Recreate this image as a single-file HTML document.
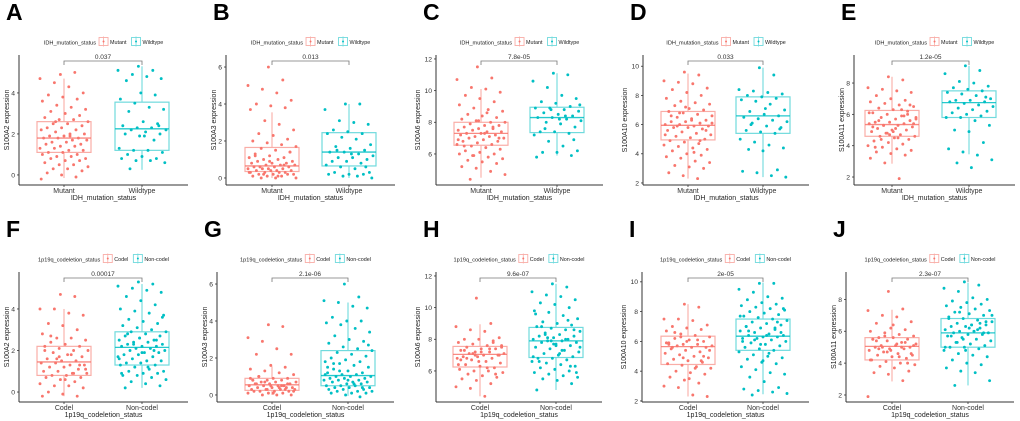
<!DOCTYPE html>
<html><head><meta charset="utf-8">
<style>
html,body{margin:0;padding:0;background:#fff;}
svg{display:block;font-family:"Liberation Sans",Arial,sans-serif;}
</style></head>
<body>
<svg id="fig" width="1020" height="421" viewBox="0 0 1020 421"></svg>
<script>
// ---------- data ----------
const panelLetters = ["A","B","C","D","E","F","G","H","I","J"];
const genes = ["S100A2","S100A3","S100A6","S100A10","S100A11","S100A2","S100A3","S100A6","S100A10","S100A11"];
const pValues = ["0.037","0.013","7.8e-05","0.033","1.2e-05","0.00017","2.1e-06","9.6e-07","2e-05","2.3e-07"];
const catsTop = ["Mutant","Wildtype"];
const catsBottom = ["Codel","Non-codel"];
const groupTop = "IDH_mutation_status";
const groupBottom = "1p19q_codeletion_status";
const yTicks = [[0,2,4],[0,2,4,6],[6,8,10,12],[2,4,6,8,10],[2,4,6,8],[0,2,4],[0,2,4,6],[6,8,10,12],[2,4,6,8,10],[2,4,6,8]];
const yDomains = [[-0.49,5.85],[-0.38,6.65],[4.04,12.25],[1.86,10.77],[1.49,9.79],[-0.48,5.78],[-0.38,6.65],[4.04,12.25],[1.93,10.66],[1.56,9.72]];
// box stats: [median, q1, q3, whiskerLow, whiskerHigh]
const boxG1 = [[1.8,1.1,2.6,-0.15,4.7],[0.65,0.35,1.65,0,3.55],[7.3,6.55,8.0,4.5,10.1],[5.95,4.95,6.9,2.3,9.5],[5.35,4.6,6.25,2.85,8.4],
  [1.45,0.8,2.2,-0.2,4.0],[0.55,0.25,0.9,0,1.55],[7.05,6.25,7.55,4.4,8.95],[5.65,4.45,6.35,2.3,8.5],[5.05,4.2,5.6,2.85,7.35]];
const boxG2 = [[2.25,1.2,3.55,0.25,5.3],[1.4,0.65,2.45,0,4.0],[8.3,7.35,8.95,5.9,11.1],[6.6,5.4,7.9,2.4,9.9],[6.75,5.8,7.5,3.45,9.1],
  [2.15,1.3,2.9,0.2,5.2],[1.05,0.5,2.4,-0.05,5.0],[7.9,6.85,8.75,4.8,11.5],[6.35,5.4,7.5,2.45,9.95],[5.9,5.0,6.8,2.6,9.05]];
const ptsA1=[4.9,5.0,4.7,4.5,4.3,4.0,3.9,3.8,3.7,3.6,3.4,3.3,3.2,3.1,3.0,2.9,2.8,2.7,2.7,2.6,2.5,2.5,2.4,2.3,2.3,2.2,2.2,2.1,2.0,2.0,1.9,1.9,1.8,1.8,1.8,1.7,1.7,1.6,1.6,1.5,1.5,1.4,1.4,1.3,1.3,1.2,1.2,1.1,1.1,1.0,1.0,0.9,0.9,0.8,0.8,0.7,0.7,0.6,0.5,0.5,0.4,0.3,0.3,0.2,0.1,0.0,-0.1,-0.2,2.6,1.9];
const ptsA2=[5.3,5.1,5.1,4.9,4.8,4.7,4.6,4.0,3.9,3.7,3.5,3.3,3.2,3.1,2.6,2.5,2.4,2.3,2.3,2.2,2.2,2.1,2.0,2.0,1.9,1.7,1.3,1.2,1.2,1.1,1.0,0.9,0.8,0.8,0.7,0.7,0.6,0.3,1.9,2.4];
const ptsB1=[6.0,5.3,5.0,4.8,4.6,4.2,4.0,3.9,3.8,3.7,3.1,2.9,2.6,2.4,2.3,2.1,2.0,1.9,1.8,1.7,1.6,1.5,1.4,1.3,1.2,1.1,1.1,1.0,1.0,0.9,0.9,0.8,0.8,0.8,0.7,0.7,0.7,0.6,0.6,0.6,0.6,0.5,0.5,0.5,0.5,0.4,0.4,0.4,0.4,0.3,0.3,0.3,0.3,0.2,0.2,0.2,0.2,0.1,0.1,0.1,0.0,0.0,0.0,1.4,1.2,0.9,0.7,0.3,0.2,0.1];
const ptsB2=[4.0,4.0,3.7,3.1,3.0,2.9,2.6,2.5,2.4,2.4,2.2,2.1,1.8,1.7,1.6,1.5,1.4,1.4,1.3,1.2,1.1,1.1,1.0,0.9,0.9,0.8,0.7,0.6,0.5,0.3,0.3,0.2,0.2,0.2,0.1,0.1,0.0,1.5,1.3,0.6];
const ptsC1=[11.5,10.8,10.7,10.2,10.1,9.9,9.7,9.5,9.3,9.1,8.9,8.8,8.7,8.5,8.4,8.3,8.2,8.1,8.0,8.0,7.9,7.8,7.8,7.7,7.6,7.6,7.5,7.5,7.4,7.4,7.3,7.3,7.2,7.2,7.1,7.1,7.0,7.0,6.9,6.8,6.8,6.7,6.6,6.6,6.5,6.4,6.3,6.2,6.1,6.0,6.0,5.9,5.8,5.7,5.6,5.5,5.4,5.2,5.1,4.9,4.7,4.4,7.3,7.0,6.5,8.1,7.7,6.9,5.9,8.6];
const ptsC2=[11.1,11.0,10.6,10.2,9.7,9.5,9.3,9.2,9.0,8.9,8.9,8.8,8.7,8.6,8.5,8.4,8.3,8.3,8.2,8.1,8.0,7.9,7.7,7.4,7.4,7.3,7.2,6.8,6.5,6.2,6.1,6.1,5.9,5.8,8.8,8.4,9.1,7.6,8.2,6.9];
const ptsD1=[9.6,9.4,9.0,8.9,8.8,8.5,8.4,8.2,8.0,7.8,7.6,7.5,7.4,7.3,7.1,7.0,6.9,6.8,6.7,6.6,6.5,6.4,6.3,6.2,6.2,6.1,6.0,6.0,5.9,5.9,5.8,5.8,5.7,5.6,5.5,5.4,5.3,5.2,5.1,5.0,4.9,4.8,4.7,4.6,4.5,4.4,4.3,4.2,4.0,3.9,3.8,3.7,3.5,3.4,3.2,3.1,3.0,2.7,2.5,2.3,6.1,5.9,6.3,5.6,6.6,7.2,4.9,5.3,6.8,4.1];
const ptsD2=[9.9,9.4,8.4,8.3,8.2,8.1,8.0,7.9,7.8,7.7,7.6,7.4,7.0,6.9,6.7,6.6,6.5,6.4,6.3,6.2,6.1,5.9,5.8,5.6,5.5,5.4,5.0,4.8,4.6,4.4,4.3,4.2,2.9,2.8,2.7,2.5,2.4,6.0,7.1,5.7];
const ptsE1=[8.4,8.2,7.7,7.6,7.5,7.4,7.2,7.0,6.9,6.8,6.7,6.6,6.5,6.4,6.3,6.2,6.1,6.0,5.9,5.8,5.8,5.7,5.6,5.5,5.5,5.4,5.4,5.3,5.3,5.2,5.1,5.0,5.0,4.9,4.8,4.7,4.6,4.6,4.5,4.4,4.3,4.2,4.1,4.0,3.9,3.8,3.7,3.6,3.5,3.4,3.2,2.9,1.9,5.4,5.6,4.9,6.0,5.2,4.8,6.3,5.7,4.4,5.1,6.6,3.9,4.7,5.9,6.1,5.3,4.5];
const ptsE2=[9.1,8.8,8.6,8.1,8.0,7.8,7.7,7.6,7.5,7.4,7.3,7.2,7.0,6.9,6.9,6.8,6.8,6.7,6.6,6.5,6.4,6.3,6.2,6.1,6.0,5.9,5.8,5.8,5.6,5.3,5.0,4.9,4.2,3.8,3.6,3.4,3.1,2.9,2.6,7.1];
const ptsF1=[4.7,4.6,4.0,4.0,3.8,3.7,3.3,3.2,3.0,2.8,2.6,2.6,2.5,2.4,2.3,2.2,2.2,2.1,2.0,2.0,1.9,1.8,1.7,1.6,1.5,1.5,1.4,1.4,1.3,1.3,1.2,1.2,1.1,1.0,1.0,0.9,0.9,0.8,0.8,0.7,0.7,0.6,0.5,0.4,0.3,0.3,0.2,0.0,-0.1,-0.2,-0.2,1.6,1.8,1.1,2.7,0.6,1.3,2.0,1.7,0.9];
const ptsF2=[5.3,5.2,5.1,5.0,4.9,4.8,4.6,4.4,4.2,4.0,3.9,3.8,3.7,3.5,3.4,3.3,3.2,3.1,3.0,2.9,2.9,2.8,2.7,2.7,2.6,2.5,2.5,2.4,2.4,2.3,2.3,2.2,2.2,2.2,2.1,2.1,2.0,2.0,1.9,1.9,1.8,1.8,1.7,1.7,1.6,1.5,1.5,1.4,1.4,1.3,1.3,1.2,1.1,1.0,1.0,0.9,0.9,0.8,0.8,0.7,0.6,0.5,0.4,0.3,0.2,2.6,2.0,1.6,2.3,1.2,3.6,2.8,1.9,2.5,0.9];
const ptsG1=[3.8,3.7,3.1,2.9,2.5,2.2,2.2,1.6,1.5,1.4,1.3,1.2,1.1,1.0,0.9,0.9,0.8,0.8,0.8,0.7,0.7,0.7,0.6,0.6,0.6,0.5,0.5,0.5,0.5,0.4,0.4,0.4,0.4,0.3,0.3,0.3,0.3,0.2,0.2,0.2,0.2,0.1,0.1,0.1,0.0,0.0,0.0,0.6,0.5,0.3,0.9,0.7,0.4,0.2,1.0,0.1,0.6,0.8,0.3,0.5];
const ptsG2=[6.0,5.3,5.1,5.0,4.8,4.7,4.2,4.0,4.0,3.9,3.8,3.6,3.4,3.2,3.0,2.9,2.8,2.6,2.5,2.4,2.3,2.2,2.1,2.0,1.9,1.8,1.8,1.7,1.6,1.5,1.4,1.3,1.2,1.2,1.1,1.1,1.0,1.0,1.0,0.9,0.9,0.9,0.8,0.8,0.8,0.7,0.7,0.7,0.6,0.6,0.5,0.5,0.5,0.4,0.4,0.4,0.3,0.3,0.3,0.2,0.2,0.2,0.1,0.1,0.1,0.0,-0.1,1.1,1.3,0.6,2.7,1.7,0.8,0.4,1.5];
const ptsH1=[10.6,9.0,8.8,8.6,8.5,8.1,8.0,8.0,7.9,7.8,7.7,7.6,7.6,7.5,7.4,7.4,7.3,7.2,7.2,7.1,7.1,7.0,7.0,6.9,6.9,6.8,6.8,6.7,6.6,6.5,6.4,6.3,6.2,6.1,6.0,6.0,5.9,5.8,5.7,5.6,5.5,5.4,5.2,5.0,4.9,4.4,7.0,7.3,6.6,7.8,6.4,7.1,6.2,7.5,6.8,7.2,5.8,6.7,7.0,7.4];
const ptsH2=[11.5,11.3,11.0,10.8,10.7,10.5,10.3,10.2,10.0,9.8,9.7,9.5,9.3,9.1,9.0,8.9,8.8,8.7,8.6,8.5,8.4,8.3,8.2,8.2,8.1,8.0,8.0,7.9,7.9,7.8,7.8,7.7,7.6,7.5,7.4,7.3,7.2,7.1,7.0,6.9,6.8,6.8,6.7,6.6,6.5,6.4,6.3,6.2,6.1,6.0,5.9,5.8,5.7,5.6,5.5,5.4,5.2,4.8,7.9,8.0,7.5,8.3,7.1,8.6,6.6,7.7,9.2,6.9,8.1,7.3,5.9,8.8,7.6,6.3,9.6];
const ptsI1=[8.5,8.3,7.5,7.5,7.4,7.1,7.0,6.9,6.8,6.7,6.5,6.4,6.3,6.2,6.1,6.0,5.9,5.8,5.8,5.7,5.7,5.6,5.6,5.5,5.4,5.3,5.2,5.1,5.0,4.9,4.8,4.7,4.6,4.5,4.4,4.3,4.2,4.0,3.9,3.8,3.6,3.4,3.2,3.0,2.9,2.4,2.3,5.6,6.0,4.7,5.9,6.3,4.2,5.4,6.6,3.5,5.0,5.8,4.9,6.1];
const ptsI2=[9.9,9.9,9.5,9.3,9.0,8.9,8.8,8.6,8.5,8.4,8.3,8.2,8.1,8.0,7.9,7.8,7.7,7.6,7.5,7.4,7.3,7.2,7.1,7.0,6.9,6.8,6.7,6.6,6.5,6.4,6.4,6.3,6.3,6.2,6.2,6.1,6.0,5.9,5.8,5.7,5.6,5.5,5.4,5.3,5.1,5.0,4.9,4.8,4.6,4.5,4.3,4.1,3.9,3.8,3.6,3.3,2.9,2.8,2.7,2.6,2.5,2.4,6.4,6.6,7.0,5.8,6.9,7.7,6.1,5.2,8.2,6.7,4.7,7.3,6.0];
const ptsJ1=[8.5,7.4,7.3,7.0,6.9,6.6,6.5,6.2,6.1,6.0,5.9,5.8,5.7,5.6,5.6,5.5,5.5,5.4,5.3,5.2,5.1,5.1,5.0,5.0,4.9,4.9,4.8,4.7,4.6,4.5,4.5,4.4,4.3,4.2,4.1,4.0,3.9,3.8,3.7,3.5,3.4,3.3,2.9,1.9,5.0,5.2,4.6,5.4,4.8,5.3,4.2,5.7,4.4,5.1,4.9,6.4,4.0,5.5,4.7,5.0];
const ptsJ2=[9.1,8.9,8.7,8.5,8.1,8.0,7.9,7.8,7.7,7.6,7.5,7.4,7.3,7.2,7.1,7.0,6.9,6.8,6.7,6.6,6.5,6.4,6.4,6.3,6.3,6.2,6.1,6.0,6.0,5.9,5.9,5.8,5.8,5.7,5.6,5.5,5.4,5.3,5.2,5.1,5.0,5.0,4.9,4.8,4.6,4.5,4.4,4.2,4.0,3.9,3.7,3.5,3.4,2.9,2.6,6.2,5.9,6.8,5.5,6.1,7.0,5.3,6.4,6.6,5.7,4.8,6.5,5.0,7.2,6.0];
const points1=[ptsA1,ptsB1,ptsC1,ptsD1,ptsE1,ptsF1,ptsG1,ptsH1,ptsI1,ptsJ1];
const points2=[ptsA2,ptsB2,ptsC2,ptsD2,ptsE2,ptsF2,ptsG2,ptsH2,ptsI2,ptsJ2];

// ---------- layout (pixels) ----------
const axisXs=[19,226,436,643,854,19,217,436,642,846];
const g1Xs=[64,272,481,688,892,64,272,480,688,892];
const g2Xs=[142,349,557,763,969,142,348,556,763,968];
const RED="#F8766D", TEAL="#00BFC4", REDL="#F9ADA7", TEALL="#70DADD";
const svg=document.getElementById('fig');
const NS="http://www.w3.org/2000/svg";
function mk(tag,attrs,parent){const e=document.createElementNS(NS,tag);for(const k in attrs)e.setAttribute(k,attrs[k]);(parent||svg).appendChild(e);return e;}

for(let p=0;p<10;p++){
  const row=p<5?0:217;
  const top=55+row, bot=185+row;
  const ax=axisXs[p], x1=g1Xs[p], x2=g2Xs[p], right=x2+46, cx=(ax+right)/2;
  const [d0,d1]=yDomains[p];
  const y=v=>bot-(v-d0)/(d1-d0)*(bot-top);
  const cats=p<5?catsTop:catsBottom, grp=p<5?groupTop:groupBottom;
  const g=mk('g',{});
  
  

  const L=mk('text',{x:ax-13,y:20+row,'font-size':23,'font-weight':'bold',fill:'#000'},g);
  L.textContent=panelLetters[p];
  
  

  // legend (laid out from measured text widths, centred over plot)
  const lg=mk('g',{},g);
  
  
  const lt=mk('text',{x:0,y:44.5+row,'font-size':5.6,fill:'#222'},lg);
  lt.textContent=grp;
  let lx=lt.getComputedTextLength()+3;
  for(let k=0;k<2;k++){
    const col=k===0?RED:TEAL, colL=k===0?REDL:TEALL;
    const key=mk('g',{},lg);
    
    
    mk('rect',{x:lx,y:37.5+row,width:9,height:8,fill:'#fff',stroke:colL,'stroke-width':0.9},key);
    mk('line',{x1:lx+4.5,x2:lx+4.5,y1:36.5+row,y2:46.5+row,stroke:colL,'stroke-width':0.8},key);
    mk('circle',{cx:lx+4.5,cy:41.5+row,r:1,fill:col},key);
    const t=mk('text',{x:lx+11,y:44+row,'font-size':5.4,fill:'#222'},key);
    t.textContent=cats[k];
    lx+=11+t.getComputedTextLength()+(k===0?5:0);
  }
  lg.setAttribute('transform',`translate(${cx-lx/2},0)`);

  // axes
  const axg=mk('g',{},g);
  
  
  mk('line',{x1:ax,x2:ax,y1:top,y2:bot,stroke:'#333','stroke-width':1},axg);
  mk('line',{x1:ax,x2:right,y1:bot,y2:bot,stroke:'#333','stroke-width':1},axg);
  let maxc=1;
  yTicks[p].forEach(v=>{
    const yy=y(v);
    mk('line',{x1:ax-2,x2:ax,y1:yy,y2:yy,stroke:'#333','stroke-width':0.8},axg);
    const t=mk('text',{x:ax-4,y:yy+2.4,'font-size':6.8,'text-anchor':'end',fill:'#333'},axg);
    t.textContent=v;
    
    
    maxc=Math.max(maxc,String(v).length);
  });
  [x1,x2].forEach((xx,k)=>{
    mk('line',{x1:xx,x2:xx,y1:bot,y2:bot+2,stroke:'#333','stroke-width':0.8},axg);
    const t=mk('text',{x:xx,y:bot+8,'font-size':7,'text-anchor':'middle',fill:'#333'},axg);
    t.textContent=cats[k];
    
    
  });
  const xt=mk('text',{x:cx,y:bot+15,'font-size':7,'text-anchor':'middle',fill:'#222'},axg);
  xt.textContent=grp;
  
  
  const ytx=ax-4-6*maxc, yty=(top+bot)/2;
  const yt=mk('text',{x:ytx,y:yty,'font-size':7,'text-anchor':'middle',fill:'#222',transform:`rotate(-90 ${ytx} ${yty})`},axg);
  yt.textContent=genes[p]+' expression';
  
  

  // boxes
  [[boxG1[p],x1,RED,REDL,points1[p]],[boxG2[p],x2,TEAL,TEALL,points2[p]]].forEach(([b,xx,col,colL,pts],k)=>{
    const bg=mk('g',{},g);
    
    
    const hw=27;
    mk('line',{x1:xx,x2:xx,y1:y(b[4]),y2:y(b[2]),stroke:colL,'stroke-width':1.1},bg);
    mk('line',{x1:xx,x2:xx,y1:y(b[1]),y2:y(b[3]),stroke:colL,'stroke-width':1.1},bg);
    mk('rect',{x:xx-hw,y:y(b[2]),width:2*hw,height:y(b[1])-y(b[2]),fill:'none',stroke:colL,'stroke-width':1.2},bg);
    mk('line',{x1:xx-hw,x2:xx+hw,y1:y(b[0]),y2:y(b[0]),stroke:col,'stroke-width':1.3,'stroke-opacity':0.85},bg);
    pts.forEach((v,i)=>{
      const j=(((i*53+17)%41)/40-0.5)*48;
      const c=mk('circle',{cx:xx+j,cy:y(v),r:1.45,fill:col},bg);
      
      
    });
  });

  // p-value bracket
  const pg=mk('g',{},g);
  
  
  const by=61+row;
  mk('path',{d:`M${x1} ${by+4}V${by}H${x2}V${by+4}`,fill:'none',stroke:'#777','stroke-width':0.8},pg);
  const pt=mk('text',{x:(x1+x2)/2,y:by-2,'font-size':6.5,'text-anchor':'middle',fill:'#333'},pg);
  pt.textContent=pValues[p];
}
</script>
</body></html>
